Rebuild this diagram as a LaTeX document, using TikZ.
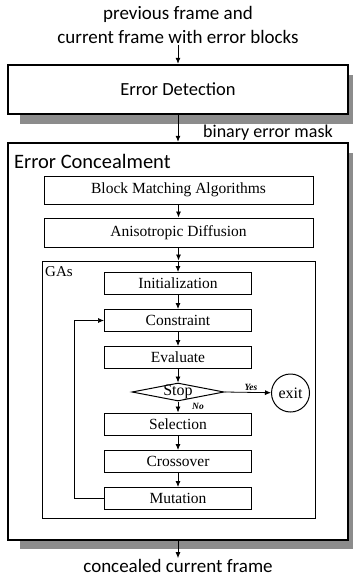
\documentclass[tikz,border=0pt]{standalone}
\usepackage{fontspec}
\usepackage{xcolor}
\usepackage{tikz}
\usetikzlibrary{shapes.geometric,arrows.meta}
\setmainfont{Liberation Serif}
\newfontfamily\flowsans{Carlito}
\definecolor{ShadowGray}{HTML}{8C8C8C}

\tikzset{
  sanstext/.style={font=\flowsans\fontsize{19}{24}\selectfont,inner sep=1pt},
  outerbox/.style={draw,line width=2.4pt,fill=white},
  blockbox/.style={draw,line width=1pt,fill=white,inner sep=0pt,font=\fontsize{15.5}{18}\selectfont},
  stepbox/.style={blockbox,minimum width=147pt,minimum height=22pt},
  flowarrow/.style={-{Latex[length=6pt,width=5pt]},line width=0.8pt},
  answer/.style={font=\fontsize{9.5}{11}\selectfont\bfseries\itshape,inner sep=1pt}
}

\begin{document}
\begin{tikzpicture}[x=1pt,y=-1pt]
\path[use as bounding box] (0,0) rectangle (353,580);
% shadows
\fill[ShadowGray] (20,75) rectangle (353,124);
\fill[ShadowGray] (20,153) rectangle (353,549);
% outer stages
\node[sanstext,align=center] (input) at (178,25) {previous frame and\\current frame with error blocks};
\node[outerbox,minimum width=340pt,minimum height=49pt,font=\flowsans\fontsize{18.5}{22}\selectfont] (detect) at (178,89.5) {Error Detection};
\node[outerbox,minimum width=340pt,minimum height=397pt] (conceal) at (178,341.5) {};
\node[sanstext,anchor=west,font=\flowsans\fontsize{20.5}{24}\selectfont] (concealtitle) at (13,161) {Error Concealment};
\node[sanstext,anchor=west,font=\flowsans\fontsize{18}{22}\selectfont] (masklabel) at (202,133) {binary error mask};
\node[sanstext] (output) at (178,566) {concealed current frame};
% concealment blocks
\node[blockbox,minimum width=269pt,minimum height=28pt] (bma) at (178.5,190) {Block Matching Algorithms};
\node[blockbox,minimum width=269pt,minimum height=29pt] (aniso) at (178.5,232.5) {Anisotropic Diffusion};
\node[draw,line width=1pt,minimum width=273pt,minimum height=257pt] (ga) at (178.5,389.5) {};
\node[anchor=west,inner sep=1pt,font=\fontsize{15}{18}\selectfont] (galabel) at (44,272) {GAs};
% GA steps
\node[stepbox] (init) at (178,283.5) {Initialization};
\node[stepbox] (cons) at (178,320.5) {Constraint};
\node[stepbox] (eval) at (178,357.5) {Evaluate};
\node[draw,diamond,line width=1pt,aspect=5.1,minimum width=92pt,minimum height=18pt,inner sep=0pt,
  label={[font=\fontsize{16}{18}\selectfont,inner sep=0pt]center:Stop}] (stop) at (178,392) {};
\node[draw,circle,line width=1pt,minimum size=38pt,inner sep=0pt,font=\fontsize{16}{18}\selectfont] (exit) at (290.5,393) {exit};
\node[stepbox] (sel) at (178,424) {Selection};
\node[stepbox] (cross) at (178,461.5) {Crossover};
\node[stepbox] (mut) at (178,498.5) {Mutation};
\coordinate (loopcorner) at (74,498.5);

% connectors
\draw[flowarrow] (input.south) -- (detect.north);
\draw[flowarrow] (detect.south) -- (conceal.north);
\draw[flowarrow] (bma) -- (aniso);
\draw[flowarrow] (aniso) -- (aniso |- ga.north);
\draw[flowarrow] (init |- ga.north) -- (init);
\draw[flowarrow] (init) -- (cons);
\draw[flowarrow] (cons) -- (eval);
\draw[flowarrow] (eval) -- (stop);
\draw[flowarrow] (stop) -- (sel);
\draw[flowarrow] (stop.east) -- (exit);
\draw[flowarrow] (cross) -- (mut);
\draw[flowarrow] (sel) -- (cross);
\draw[flowarrow,line width=0.7pt] (mut.west) -- (loopcorner) |- (cons.west);
\draw[flowarrow] (conceal.south) -- (output.north);
\node[answer] (yeslabel) at (251,387) {Yes};
\node[answer] (nolabel) at (198,406) {No};
\end{tikzpicture}
\end{document}
